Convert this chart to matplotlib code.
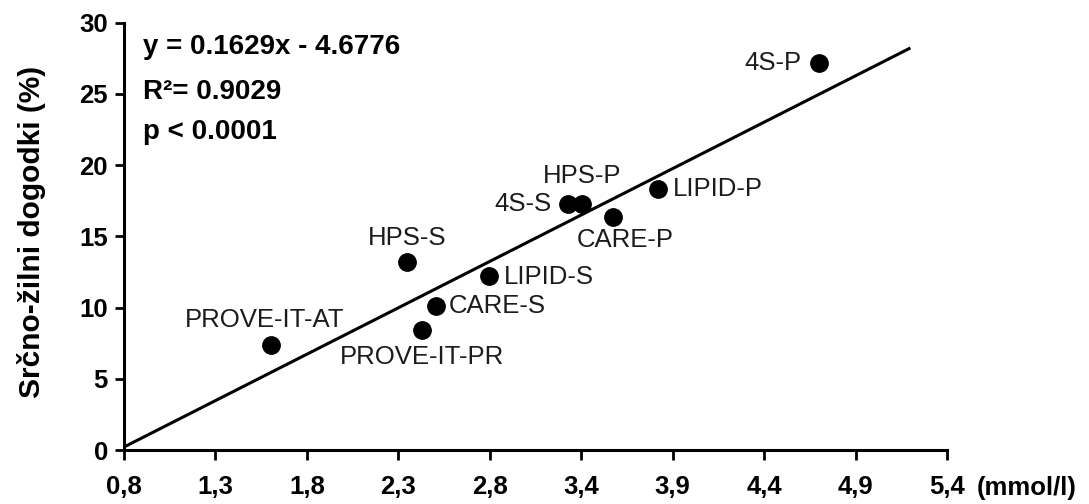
"""
LDL cholesterol vs. cardiovascular events in statin trials (scatter + fit).
"""

import matplotlib
matplotlib.use("Agg")
import matplotlib.pyplot as plt

plt.rcParams["font.family"] = ["Liberation Sans", "DejaVu Sans"]

# trial labels, LDL (mg/dl, axis labelled in mmol/l) and event rate (%)
trials = ["PROVE-IT-AT", "HPS-S", "PROVE-IT-PR", "CARE-S", "LIPID-S",
          "4S-S", "HPS-P", "CARE-P", "LIPID-P", "4S-P"]
ldl = [62.1, 92.0, 95.2, 98.2, 109.8, 127.0, 130.2, 137.0, 146.9, 181.9]
events = [7.4, 13.2, 8.4, 10.1, 12.2, 17.3, 17.3, 16.35, 18.3, 27.2]

slope = 0.1629
intercept = -4.6776
fit_x = [30, 202]

tick_values = [30, 50, 70, 90, 110, 130, 150, 170, 190, 210]
tick_labels = ["0,8", "1,3", "1,8", "2,3", "2,8", "3,4", "3,9", "4,4", "4,9", "5,4"]
y_ticks = [0, 5, 10, 15, 20, 25, 30]

# label placement relative to each dot: (dx px, dy px, ha)
label_pos = {
    "PROVE-IT-AT": (-6, 25, "center"),
    "HPS-S": (0, 24, "center"),
    "PROVE-IT-PR": (0, -27, "center"),
    "CARE-S": (13, 0, "left"),
    "LIPID-S": (15, -1, "left"),
    "4S-S": (-16, 0, "right"),
    "HPS-P": (0, 28, "center"),
    "CARE-P": (12, -23, "center"),
    "LIPID-P": (14, 0, "left"),
    "4S-P": (-17, 0, "right"),
}

W, H = 1089, 504
fig = plt.figure(figsize=(W / 100, H / 100), dpi=100)
ax = fig.add_axes([124 / W, 1 - 450 / H, (947 - 124) / W, (450 - 22.7) / H])

fit_y = [slope * x + intercept for x in fit_x]
ax.plot(fit_x, fit_y, color="black", lw=2.2, solid_capstyle="butt")
ax.plot(ldl, events, "o", color="black", markersize=12.5, clip_on=False)

for name, x, y in zip(trials, ldl, events):
    dx, dy, ha = label_pos[name]
    ax.annotate(name, (x, y), xytext=(dx, dy), textcoords="offset pixels",
                ha=ha, va="center", fontsize=18.5, color="#1c1c1c")

ax.set_xlim(30, 210)
ax.set_ylim(0, 30)
ax.set_xticks(tick_values)
ax.set_xticklabels(tick_labels)
ax.set_yticks(y_ticks)

for side in ["top", "right"]:
    ax.spines[side].set_visible(False)
for side in ["left", "bottom"]:
    ax.spines[side].set_linewidth(2.2)
ax.tick_params(axis="x", length=7, width=2, pad=11, labelsize=18.5)
ax.tick_params(axis="y", length=6.5, width=2, pad=5, labelsize=18.5)
for lab in ax.get_xticklabels() + ax.get_yticklabels():
    lab.set_fontweight("bold")

stats = ["y = 0.1629x - 4.6776", "R\u00b2= 0.9029", "p < 0.0001"]
for i, s in enumerate(stats):
    fig.text(143 / W, 1 - [47, 92, 132][i] / H, s, ha="left", va="center",
             fontsize=20, fontweight="bold")

fig.text(32 / W, 1 - 232 / H, "Srčno-žilni dogodki (%)", rotation=90,
         ha="center", va="center", fontsize=21.5, fontweight="bold")
fig.text(977 / W, 1 - 488 / H, "(mmol/l)", ha="left", va="center",
         fontsize=18.5, fontweight="bold")

fig.savefig("out.png", dpi=100)
